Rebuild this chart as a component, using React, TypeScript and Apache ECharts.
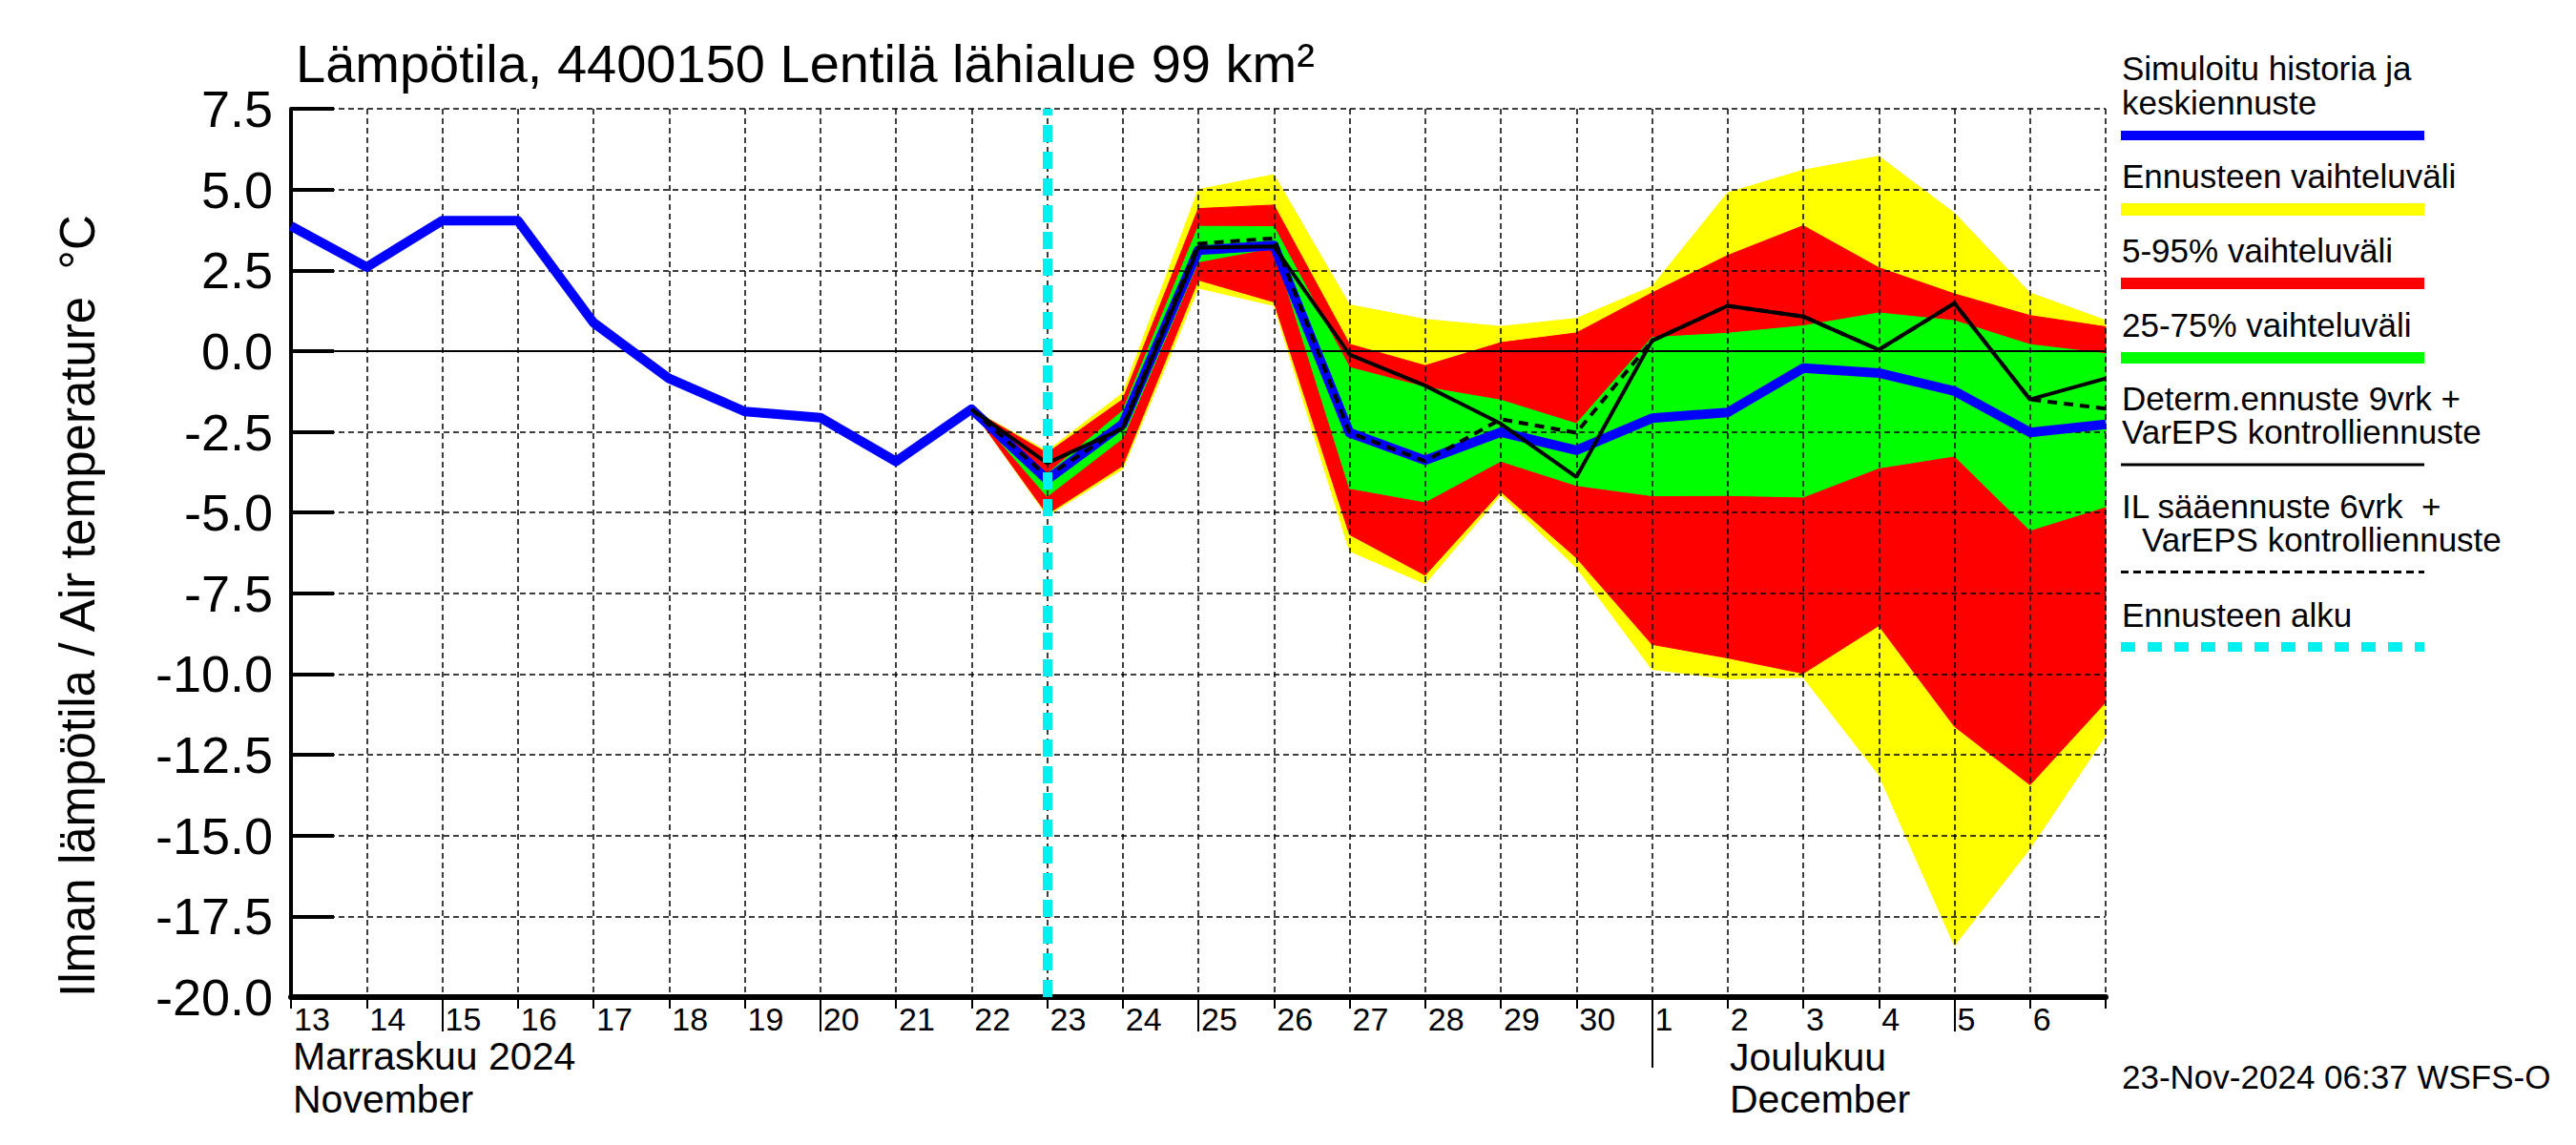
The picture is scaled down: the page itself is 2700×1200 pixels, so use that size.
import React, { useEffect, useRef } from "react";
import * as echarts from "echarts";

// ---- data (x = day index from 13 Nov 2024 00:00) ----
const dayLabels = ["13","14","15","16","17","18","19","20","21","22","23","24","25","26","27","28","29","30","1","2","3","4","5","6"];
const yMin = -20;
const yMax = 7.5;
const yStep = 2.5;
const forecastStartIdx = 10;
const bandStartIdx = 9;
const longTickIdx = [2, 7, 12, 22];
const monthTickIdx = [18];

// simulated history + mean forecast (index 0..24)
const simulated = [3.87, 2.6, 4.04, 4.04, 0.88, -0.85, -1.87, -2.06, -3.42, -1.8, -3.98, -2.26, 3.12, 3.27, -2.53, -3.38, -2.51, -3.07, -2.08, -1.9, -0.53, -0.68, -1.24, -2.52, -2.27];
// from bandStartIdx (index 9..24)
const determ = [-1.8, -3.47, -2.4, 3.2, 3.24, -0.11, -1.07, -2.25, -3.9, 0.32, 1.4, 1.07, 0.04, 1.48, -1.5, -0.85];
const ilForecast = [-1.8, -3.88, -2.35, 3.32, 3.49, -2.53, -3.41, -2.11, -2.53, 0.32, 1.4, 1.07, 0.04, 1.48, -1.5, -1.78];
const yellowMax = [-1.8, -3.1, -1.3, 5.0, 5.46, 1.43, 0.98, 0.76, 1.01, 2.0, 4.9, 5.6, 6.03, 4.27, 1.8, 0.95];
const redMax = [-1.8, -3.16, -1.5, 4.41, 4.52, 0.21, -0.45, 0.26, 0.56, 1.8, 2.96, 3.88, 2.58, 1.77, 1.1, 0.75];
const greenMax = [-1.8, -3.8, -1.85, 3.86, 3.85, -0.51, -1.12, -1.52, -2.25, 0.42, 0.55, 0.78, 1.18, 0.94, 0.2, -0.08];
const greenMin = [-1.8, -4.5, -2.7, 2.76, 3.2, -4.25, -4.67, -3.41, -4.16, -4.48, -4.47, -4.52, -3.62, -3.25, -5.55, -4.82];
const redMin = [-1.8, -5.05, -3.55, 2.2, 1.52, -5.68, -6.94, -4.35, -6.4, -9.08, -9.5, -9.98, -8.5, -11.62, -13.43, -10.87];
const yellowMin = [-1.8, -5.1, -3.65, 1.95, 1.41, -6.19, -7.2, -4.45, -6.7, -9.85, -10.15, -10.1, -13.12, -18.4, -15.4, -11.9];

const FONT = "'Liberation Sans', Arial, Helvetica, sans-serif";

const pairs = (vals: number[], start: number) => vals.map((v, i) => [start + i, v]);

function bandSeries(name: string, lo: number[], hi: number[], color: string) {
  return {
    type: "custom",
    name,
    silent: true,
    z: -1,
    data: lo.map((v, i) => [bandStartIdx + i, v, hi[i]]),
    encode: { x: 0, y: [1, 2] },
    renderItem: (params: any, api: any) => {
      if (params.dataIndex !== 0) return null;
      const top = hi.map((v, i) => api.coord([bandStartIdx + i, v]));
      const bot = lo.map((v, i) => api.coord([bandStartIdx + i, v])).reverse();
      return {
        type: "polygon",
        shape: { points: top.concat(bot) },
        style: { fill: color, stroke: color, lineWidth: 1 },
      };
    },
  };
}

function txt(text: string, x: number, y: number, size: number, extra: any = {}) {
  return {
    type: "text",
    x,
    y,
    ...extra,
    style: {
      text,
      fontSize: size,
      fontFamily: FONT,
      fill: "#000",
      align: "left",
      verticalAlign: "middle",
      textAlign: "left",
      textVerticalAlign: "middle",
    },
  };
}

function legLine(y: number, color: string, width: number, dash?: number[]) {
  return {
    type: "line",
    shape: { x1: 2223, y1: y, x2: 2541, y2: y },
    style: { stroke: color, lineWidth: width, lineDash: dash },
  };
}

export default function App() {
  const ref = useRef<HTMLDivElement>(null);
  useEffect(() => {
    if (!ref.current) return;
    const chart = echarts.init(ref.current, null, { renderer: "svg" });
    const splitStyle = { type: [6, 4], color: "#000", width: 1.5 };
    const option: any = {
      animation: false,
      backgroundColor: "#fff",
      grid: { left: 305, right: 493, top: 114, bottom: 155, containLabel: false },
      xAxis: [
        {
          type: "value",
          min: 0,
          max: 24,
          interval: 1,
          position: "bottom",
          axisLine: { show: true, onZero: false, lineStyle: { color: "#000", width: 6 } },
          axisTick: { show: true, length: 12, lineStyle: { color: "#000", width: 2 } },
          axisLabel: {
            customValues: dayLabels.map((_, i) => i),
            formatter: (v: number) => dayLabels[Math.round(v)] ?? "",
            align: "left",
            padding: [0, 0, 0, 3],
            margin: 6,
            fontSize: 34,
            fontFamily: FONT,
            color: "#000",
          },
          splitLine: { show: true, lineStyle: splitStyle },
        },
        {
          type: "value",
          min: 0,
          max: 24,
          position: "bottom",
          axisLine: { show: false, onZero: false },
          axisLabel: { show: false },
          splitLine: { show: false },
          axisTick: { show: true, customValues: longTickIdx, length: 36, lineStyle: { color: "#000", width: 2 } },
        },
        {
          type: "value",
          min: 0,
          max: 24,
          position: "bottom",
          axisLine: { show: false, onZero: false },
          axisLabel: { show: false },
          splitLine: { show: false },
          axisTick: { show: true, customValues: monthTickIdx, length: 74, lineStyle: { color: "#000", width: 2 } },
        },
      ],
      yAxis: {
        type: "value",
        min: yMin,
        max: yMax,
        interval: yStep,
        axisLine: { show: true, onZero: false, lineStyle: { color: "#000", width: 4 } },
        axisTick: { show: true, inside: true, length: 45, lineStyle: { color: "#000", width: 4 } },
        axisLabel: {
          formatter: (v: number) => v.toFixed(1),
          fontSize: 54,
          fontFamily: FONT,
          color: "#000",
          margin: 19,
          padding: [0, 0, 14, 0],
        },
        splitLine: { show: true, lineStyle: splitStyle },
      },
      series: [
        bandSeries("yellow", yellowMin, yellowMax, "#ffff00"),
        bandSeries("red", redMin, redMax, "#ff0000"),
        bandSeries("green", greenMin, greenMax, "#00ff00"),
        {
          type: "line",
          name: "simulated",
          data: pairs(simulated, 0),
          symbol: "none",
          z: 3,
          lineStyle: { color: "#0000ff", width: 10, join: "round" },
          markLine: {
            silent: true,
            symbol: "none",
            z: 1,
            label: { show: false },
            lineStyle: { color: "#000", width: 2, type: "solid" },
            data: [{ yAxis: 0 }],
          },
        },
        {
          type: "line",
          name: "determ",
          data: pairs(determ, bandStartIdx),
          symbol: "none",
          z: 4,
          lineStyle: { color: "#000", width: 4 },
        },
        {
          type: "line",
          name: "il",
          data: pairs(ilForecast, bandStartIdx),
          symbol: "none",
          z: 4,
          lineStyle: { color: "#000", width: 4, type: [10, 7] },
          markLine: {
            silent: true,
            symbol: "none",
            z: 6,
            label: { show: false },
            lineStyle: { color: "#00f0f0", width: 10, type: [18, 10] },
            data: [{ xAxis: forecastStartIdx }],
          },
        },
      ],
      graphic: [
        txt("Lämpötila, 4400150 Lentilä lähialue 99 km²", 310, 66, 56),
        txt("Ilman lämpötila / Air temperature  °C", 81, 1045, 51, { rotation: Math.PI / 2 }),
        txt("Marraskuu 2024", 307, 1107, 41),
        txt("November", 307, 1152, 41),
        txt("Joulukuu", 1813, 1108, 41),
        txt("December", 1813, 1152, 41),
        txt("23-Nov-2024 06:37 WSFS-O", 2224, 1128, 35),
        txt("Simuloitu historia ja", 2224, 71.5, 35),
        txt("keskiennuste", 2224, 107, 35),
        legLine(142, "#0000ff", 10),
        txt("Ennusteen vaihteluväli", 2224, 184.5, 35),
        legLine(219.5, "#ffff00", 13),
        txt("5-95% vaihteluväli", 2224, 262.5, 35),
        legLine(297, "#ff0000", 12),
        txt("25-75% vaihteluväli", 2224, 340.5, 35),
        legLine(375, "#00ff00", 12),
        txt("Determ.ennuste 9vrk +", 2224, 417.5, 35),
        txt("VarEPS kontrolliennuste", 2224, 452.5, 35),
        legLine(487, "#000", 3),
        txt("IL sääennuste 6vrk  +", 2224, 530.5, 35),
        txt("VarEPS kontrolliennuste", 2245, 565.5, 35),
        legLine(599.5, "#000", 3, [8, 5]),
        txt("Ennusteen alku", 2224, 644, 35),
        legLine(678, "#00f0f0", 10, [15, 13]),
      ],
    };
    chart.setOption(option);
    return () => chart.dispose();
  }, []);
  return (
    <div
      ref={ref}
      style={{ position: "absolute", left: 0, top: 0, width: 2700, height: 1200, background: "#fff" }}
    />
  );
}
